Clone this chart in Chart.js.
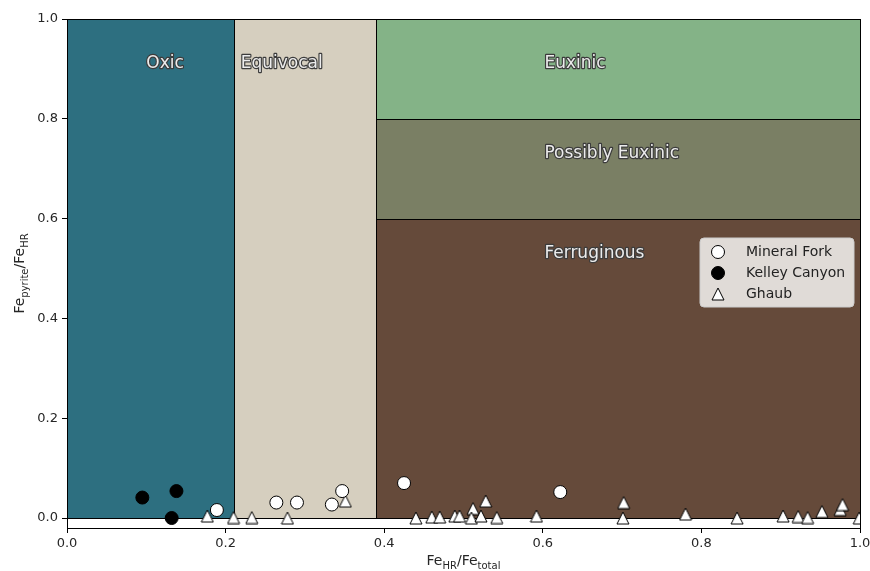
<!DOCTYPE html>
<html>
<head>
<meta charset="utf-8">
<script src="https://cdn.jsdelivr.net/npm/chart.js@4.4.1/dist/chart.umd.min.js"></script>
<style>
  html, body { margin: 0; padding: 0; background: #ffffff; }
  #wrap { width: 870px; height: 571px; }
</style>
</head>
<body>
<div id="wrap"><canvas id="c" width="870" height="571"></canvas></div>
<script>
// Iron speciation data: FeHR/Fetotal (x) against Fepyrite/FeHR (y)
const mineralForkX = [0.189, 0.264, 0.290, 0.334, 0.347, 0.425, 0.622];
const mineralForkY = [0.016, 0.031, 0.031, 0.027, 0.054, 0.070, 0.052];

const kelleyCanyonX = [0.095, 0.138, 0.132];
const kelleyCanyonY = [0.041, 0.054, 0.000];

const ghaubX = [0.177, 0.210, 0.233, 0.278, 0.351, 0.440, 0.460, 0.470, 0.489, 0.495,
                0.512, 0.510, 0.522, 0.528, 0.542, 0.592, 0.702, 0.701, 0.780, 0.845,
                0.903, 0.922, 0.934, 0.952, 0.975, 0.978, 0.999];
const ghaubY = [0.004, 0.001, 0.001, 0.000, 0.034, 0.000, 0.002, 0.002, 0.004, 0.004,
                0.019, 0.000, 0.004, 0.034, 0.001, 0.004, 0.031, 0.000, 0.008, 0.000,
                0.004, 0.003, 0.001, 0.013, 0.017, 0.027, 0.000];

// Redox fields (bounds in data units)
const regionNames = ['Oxic', 'Equivocal', 'Euxinic', 'Possibly Euxinic', 'Ferruginous'];
const regionX0 = [0.00, 0.21, 0.39, 0.39, 0.39];
const regionX1 = [0.21, 0.39, 1.00, 1.00, 1.00];
const regionY0 = [0.00, 0.00, 0.80, 0.60, 0.00];
const regionY1 = [1.00, 1.00, 1.00, 0.80, 0.60];

const xTicks = [0.0, 0.2, 0.4, 0.6, 0.8, 1.0];
const yTicks = [0.0, 0.2, 0.4, 0.6, 0.8, 1.0];

// Styling
const regionColors = ['#2d6f80', '#d6cfbf', '#84b387', '#7a7f64', '#654a3a'];
const regionLabelAt = [[0.10, 0.91], [0.219, 0.91], [0.602, 0.91], [0.602, 0.73], [0.602, 0.53]];
const FONT = "'DejaVu Sans', 'Liberation Sans', sans-serif";

function zip(xs, ys) { return xs.map((x, i) => ({ x: x, y: ys[i] })); }

// Up-pointing triangle marker, as wide as it is tall, centred on its bounding box
function makeTriangle(size) {
  const pad = 1;
  const c = document.createElement('canvas');
  c.width = size + 2 * pad;
  c.height = size + 2 * pad;
  const g = c.getContext('2d');
  g.beginPath();
  g.moveTo(pad + size / 2, pad);
  g.lineTo(pad + size, pad + size);
  g.lineTo(pad, pad + size);
  g.closePath();
  g.fillStyle = '#ffffff';
  g.fill();
  g.strokeStyle = '#000000';
  g.lineWidth = 1;
  g.lineJoin = 'miter';
  g.stroke();
  return c;
}
const triangleMarker = makeTriangle(12);

const regionsPlugin = {
  id: 'regions',
  beforeDatasetsDraw(chart) {
    const { ctx } = chart;
    const xs = chart.scales.x, ys = chart.scales.y;
    const boxes = regionNames.map((_, i) => ({
      l: Math.round(xs.getPixelForValue(regionX0[i])),
      r: Math.round(xs.getPixelForValue(regionX1[i])),
      t: Math.round(ys.getPixelForValue(regionY1[i])),
      b: Math.round(ys.getPixelForValue(regionY0[i]))
    }));
    ctx.save();
    boxes.forEach((bx, i) => {
      ctx.fillStyle = regionColors[i];
      ctx.fillRect(bx.l, bx.t, bx.r - bx.l + 1, bx.b - bx.t + 1);
    });
    ctx.strokeStyle = '#000000';
    ctx.lineWidth = 1;
    boxes.forEach(bx => {
      ctx.strokeRect(bx.l + 0.5, bx.t + 0.5, bx.r - bx.l, bx.b - bx.t);
    });
    ctx.font = '17px ' + FONT;
    ctx.textBaseline = 'middle';
    ctx.textAlign = 'left';
    ctx.lineJoin = 'round';
    for (let i = 0; i < regionNames.length; i++) {
      const px = xs.getPixelForValue(regionLabelAt[i][0]);
      const py = ys.getPixelForValue(regionLabelAt[i][1]);
      ctx.strokeStyle = '#3c3c3c';
      ctx.lineWidth = 2.4;
      ctx.strokeText(regionNames[i], px, py);
      ctx.fillStyle = '#ececec';
      ctx.fillText(regionNames[i], px, py);
    }
    ctx.restore();
  }
};

function drawSubText(ctx, parts, x, y, align) {
  // parts: [text, isSubscript]
  const mainFont = '14px ' + FONT, subFont = '10px ' + FONT;
  let total = 0;
  parts.forEach(p => { ctx.font = p[1] ? subFont : mainFont; total += ctx.measureText(p[0]).width; });
  let cx = align === 'center' ? x - total / 2 : x;
  ctx.textAlign = 'left';
  ctx.textBaseline = 'alphabetic';
  parts.forEach(p => {
    ctx.font = p[1] ? subFont : mainFont;
    ctx.fillText(p[0], cx, y + (p[1] ? 3.5 : 0));
    cx += ctx.measureText(p[0]).width;
  });
}

const framePlugin = {
  id: 'frame',
  afterDatasetsDraw(chart) {
    const { ctx, chartArea: a } = chart;
    ctx.save();
    ctx.strokeStyle = '#000000';
    ctx.lineWidth = 1;
    ctx.strokeRect(Math.round(a.left) + 0.5, Math.round(a.top) + 0.5,
                   Math.round(a.right - a.left), Math.round(a.bottom - a.top));
    ctx.restore();
  },
  afterDraw(chart) {
    const { ctx, chartArea: a } = chart;
    ctx.save();
    ctx.fillStyle = '#262626';
    // x-axis title
    drawSubText(ctx, [['Fe', false], ['HR', true], ['/Fe', false], ['total', true]],
                (a.left + a.right) / 2, 565, 'center');
    // y-axis title
    ctx.translate(24, (a.top + a.bottom) / 2);
    ctx.rotate(-Math.PI / 2);
    drawSubText(ctx, [['Fe', false], ['pyrite', true], ['/Fe', false], ['HR', true]], 0, 0, 'center');
    ctx.restore();

    // legend
    const ds = chart.data.datasets;
    ctx.save();
    const bx = 700, by = 238, bw = 154, bh = 69, rr = 4;
    ctx.beginPath();
    ctx.moveTo(bx + rr, by);
    ctx.arcTo(bx + bw, by, bx + bw, by + bh, rr);
    ctx.arcTo(bx + bw, by + bh, bx, by + bh, rr);
    ctx.arcTo(bx, by + bh, bx, by, rr);
    ctx.arcTo(bx, by, bx + bw, by, rr);
    ctx.closePath();
    ctx.fillStyle = 'rgba(255,255,255,0.8)';
    ctx.fill();
    ctx.strokeStyle = '#cccccc';
    ctx.lineWidth = 1;
    ctx.stroke();
    ctx.font = '14px ' + FONT;
    ctx.textBaseline = 'middle';
    ctx.textAlign = 'left';
    ds.forEach((d, i) => {
      const ry = 252 + i * 21;
      ctx.fillStyle = d.backgroundColor;
      ctx.strokeStyle = d.borderColor;
      ctx.lineWidth = d.borderWidth;
      Chart.helpers.drawPoint(ctx, { pointStyle: d.pointStyle, radius: d.pointRadius,
                                     borderWidth: d.borderWidth, rotation: 0 }, 718, ry);
      ctx.fillStyle = '#222222';
      ctx.fillText(d.label, 746, ry);
    });
    ctx.restore();
  }
};

const tickFont = { family: FONT, size: 13 };

new Chart(document.getElementById('c'), {
  type: 'scatter',
  data: {
    datasets: [
      { label: 'Mineral Fork', data: zip(mineralForkX, mineralForkY),
        pointStyle: 'circle', pointRadius: 6.5, backgroundColor: '#ffffff',
        borderColor: '#000000', borderWidth: 1, clip: 0 },
      { label: 'Kelley Canyon', data: zip(kelleyCanyonX, kelleyCanyonY),
        pointStyle: 'circle', pointRadius: 6.5, backgroundColor: '#000000',
        borderColor: '#000000', borderWidth: 1, clip: 0 },
      { label: 'Ghaub', data: zip(ghaubX, ghaubY),
        pointStyle: triangleMarker, pointRadius: 7, backgroundColor: '#ffffff',
        borderColor: '#000000', borderWidth: 1, clip: 0 }
    ]
  },
  options: {
    responsive: false,
    animation: false,
    events: [],
    layout: { padding: { top: 19, right: 10, left: 0, bottom: 0 } },
    plugins: { legend: { display: false }, tooltip: { enabled: false } },
    scales: {
      x: {
        type: 'linear', min: 0, max: 1,
        afterBuildTicks: s => { s.ticks = xTicks.map(v => ({ value: v })); },
        afterFit: s => { s.height = 43; s.paddingLeft = 0; s.paddingRight = 0; },
        ticks: { font: tickFont, color: '#262626', padding: 3,
                 callback: v => Number(v).toFixed(1), maxRotation: 0 },
        grid: { display: true, drawOnChartArea: false, drawTicks: true,
                tickLength: 5, color: '#000000', lineWidth: 1 },
        border: { display: false }
      },
      y: {
        type: 'linear', min: -0.02, max: 1,
        afterBuildTicks: s => { s.ticks = yTicks.map(v => ({ value: v })); },
        afterFit: s => { s.width = 67; s.paddingTop = 0; s.paddingBottom = 0; },
        ticks: { font: tickFont, color: '#262626', padding: 4,
                 callback: v => Number(v).toFixed(1) },
        grid: { display: true, drawOnChartArea: false, drawTicks: true,
                tickLength: 5, color: '#000000', lineWidth: 1 },
        border: { display: false }
      }
    }
  },
  plugins: [regionsPlugin, framePlugin]
});
</script>
</body>
</html>
